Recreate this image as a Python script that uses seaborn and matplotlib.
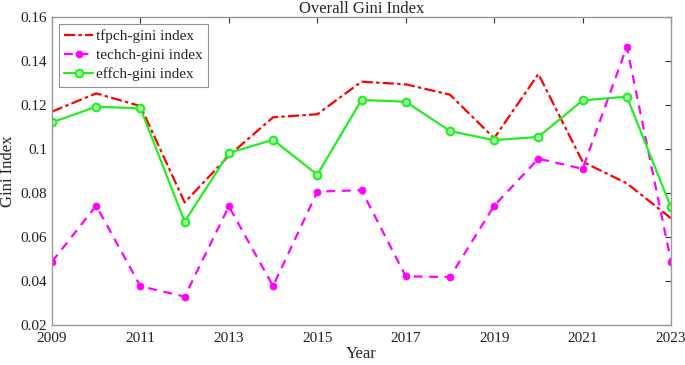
import numpy as np
import pandas as pd
import matplotlib
matplotlib.use('Agg')
import matplotlib.pyplot as plt
import seaborn as sns

years = list(range(2009, 2024))
tfpch = [0.117, 0.1253, 0.1195, 0.0757, 0.0970, 0.1144, 0.1158, 0.1306, 0.1294,
         0.1247, 0.1049, 0.1341, 0.0942, 0.0844, 0.0685]
techch = [0.0488, 0.0742, 0.0376, 0.0329, 0.0739, 0.0377, 0.0806, 0.0813, 0.0421,
          0.0418, 0.0742, 0.0956, 0.0910, 0.1465, 0.0488]
effch = [0.1121, 0.1192, 0.1185, 0.0670, 0.0982, 0.1042, 0.0883, 0.1223, 0.1215,
         0.1082, 0.1040, 0.1055, 0.1221, 0.1238, 0.0735]
labels = ['tfpch-gini index', 'techch-gini index', 'effch-gini index']

df = pd.DataFrame({'Year': years, labels[0]: tfpch, labels[1]: techch, labels[2]: effch})
long = df.melt(id_vars='Year', var_name='series', value_name='gini')

sns.set_style('white')
plt.rcParams['font.family'] = ['Liberation Serif', 'DejaVu Serif']
plt.rcParams['font.size'] = 11

fig = plt.figure(figsize=(6.85, 3.65), dpi=100)
ax = fig.add_axes([0.0759, 0.1096, 0.9037, 0.8438])

styles = {
    labels[0]: dict(color='#FF0000', linestyle=(0, (5, 1.5, 1.5, 1.5)), marker=None),
    labels[1]: dict(color='#FF00FF', linestyle=(0, (4, 3)), marker='o', markersize=4.8,
                    markerfacecolor='#FF00FF', markeredgecolor='#FF00FF'),
    labels[2]: dict(color='#22EE22', linestyle='-', marker='o', markersize=5.5,
                    markerfacecolor='#aaffaa', markeredgecolor='#22EE22', markeredgewidth=1.5),
}
for name in labels:
    sub = long[long['series'] == name]
    sns.lineplot(data=sub, x='Year', y='gini', ax=ax, label=name, linewidth=1.6,
                 **styles[name])

ax.set_xlim(2009, 2023)
ax.set_ylim(0.02, 0.16)
ax.set_xticks(list(range(2009, 2024, 2)))
ax.set_yticks([0.02, 0.04, 0.06, 0.08, 0.1, 0.12, 0.14, 0.16])
ax.set_yticklabels(['0.02', '0.04', '0.06', '0.08', '0.1', '0.12', '0.14', '0.16'])
ax.tick_params(direction='in', top=True, right=True, length=4, colors='#333333',
               labelsize=11, labelcolor='#222222', width=0.8)
ax.tick_params(axis='x', pad=5)
for s in ax.spines.values():
    s.set_color('#999999')
    s.set_linewidth(1.0)
ax.set_xlabel('Year', fontsize=12, labelpad=1)
ax.set_ylabel('Gini Index', fontsize=12, labelpad=3)
ax.set_title('Overall Gini Index', fontsize=12, pad=3)

leg = ax.legend(loc='upper left', fontsize=11, frameon=True, fancybox=False,
                edgecolor='#777777', borderpad=0.35, labelspacing=0.35,
                handlelength=1.9, handletextpad=0.15, borderaxespad=0.45)
leg.get_frame().set_linewidth(0.8)

fig.savefig('out.png', dpi=100)
